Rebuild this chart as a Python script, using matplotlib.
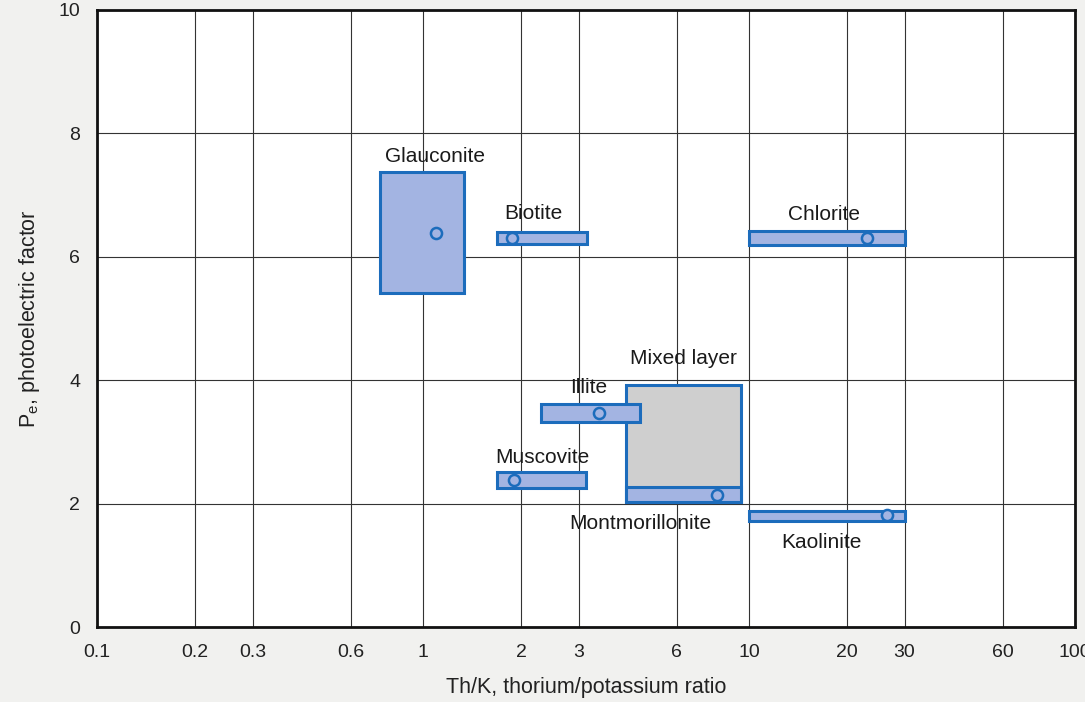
"""
Th/K ratio vs photoelectric factor crossplot - clay mineral identification
"""

import matplotlib.pyplot as plt
from matplotlib.patches import Rectangle

plt.rcParams['font.family'] = ['Liberation Sans', 'DejaVu Sans']

# mineral boxes: Th/K range, Pe range, typical point
minerals = ['Glauconite', 'Biotite', 'Chlorite', 'Mixed layer', 'Montmorillonite',
            'Illite', 'Muscovite', 'Kaolinite']
thk_lo = [0.74, 1.69, 10.0, 4.2, 4.2, 2.3, 1.69, 10.0]
thk_hi = [1.34, 3.18, 30.0, 9.45, 9.45, 4.63, 3.16, 30.0]
pe_lo = [5.42, 6.20, 6.19, 2.03, 2.03, 3.33, 2.26, 1.72]
pe_hi = [7.37, 6.40, 6.41, 3.93, 2.27, 3.62, 2.52, 1.88]
pt_thk = [1.10, 1.87, 23.0, None, 8.0, 3.47, 1.9, 26.5]
pt_pe = [6.38, 6.30, 6.30, None, 2.14, 3.47, 2.39, 1.82]
fills = ['blue', 'blue', 'blue', 'grey', 'blue', 'blue', 'blue', 'blue']

# label positions
lab_x = [1.09, 2.18, 17.0, 6.28, 4.63, 3.23, 2.32, 16.7]
lab_y = [7.63, 6.70, 6.68, 4.35, 1.68, 3.88, 2.74, 1.37]

xticks = [0.1, 0.2, 0.3, 0.6, 1, 2, 3, 6, 10, 20, 30, 60, 100]
xticklabels = ['0.1', '0.2', '0.3', '0.6', '1', '2', '3', '6', '10', '20', '30', '60', '100']
yticks = [0, 2, 4, 6, 8, 10]

edge_blue = '#1c6cbc'
fill_blue = '#a3b4e2'
fill_grey = '#cfcfcf'

fig = plt.figure(figsize=(10.85, 7.02), dpi=100, facecolor='#f1f1ef')
ax = fig.add_axes([0.0894, 0.1068, 0.9014, 0.879])
ax.set_facecolor('white')
ax.set_xscale('log')
ax.set_xlim(0.1, 100)
ax.set_ylim(0, 10)

ax.set_xticks(xticks)
ax.set_xticklabels(xticklabels)
ax.minorticks_off()
ax.set_yticks(yticks)
ax.tick_params(length=0, labelsize=14, colors='#222222')
ax.tick_params(axis='x', pad=12)
ax.tick_params(axis='y', pad=12)
ax.grid(True, color='#333333', linewidth=0.8)
ax.set_axisbelow(True)
for s in ax.spines.values():
    s.set_linewidth(2)
    s.set_color('#111111')

# grey mixed layer first, montmorillonite strip on top
order = [3, 0, 1, 2, 4, 5, 6, 7]
for i in order:
    fc = fill_grey if fills[i] == 'grey' else fill_blue
    r = Rectangle((thk_lo[i], pe_lo[i]), thk_hi[i] - thk_lo[i], pe_hi[i] - pe_lo[i],
                  facecolor=fc, edgecolor=edge_blue, linewidth=2.2, zorder=3)
    ax.add_patch(r)
    if pt_thk[i] is not None:
        ax.plot(pt_thk[i], pt_pe[i], 'o', markersize=8, markerfacecolor=fill_blue,
                markeredgecolor=edge_blue, markeredgewidth=1.8, zorder=4)

for i, name in enumerate(minerals):
    ax.text(lab_x[i], lab_y[i], name, ha='center', va='center',
            fontsize=15, color='#1a1a1a', zorder=5)

ax.set_xlabel('Th/K, thorium/potassium ratio', fontsize=15.5, color='#222222', labelpad=12)
ax.set_ylabel(r'P$_\mathregular{e}$, photoelectric factor', fontsize=15.5,
              color='#222222', labelpad=12)

plt.savefig('out.png', dpi=100, facecolor=fig.get_facecolor())
plt.close()
